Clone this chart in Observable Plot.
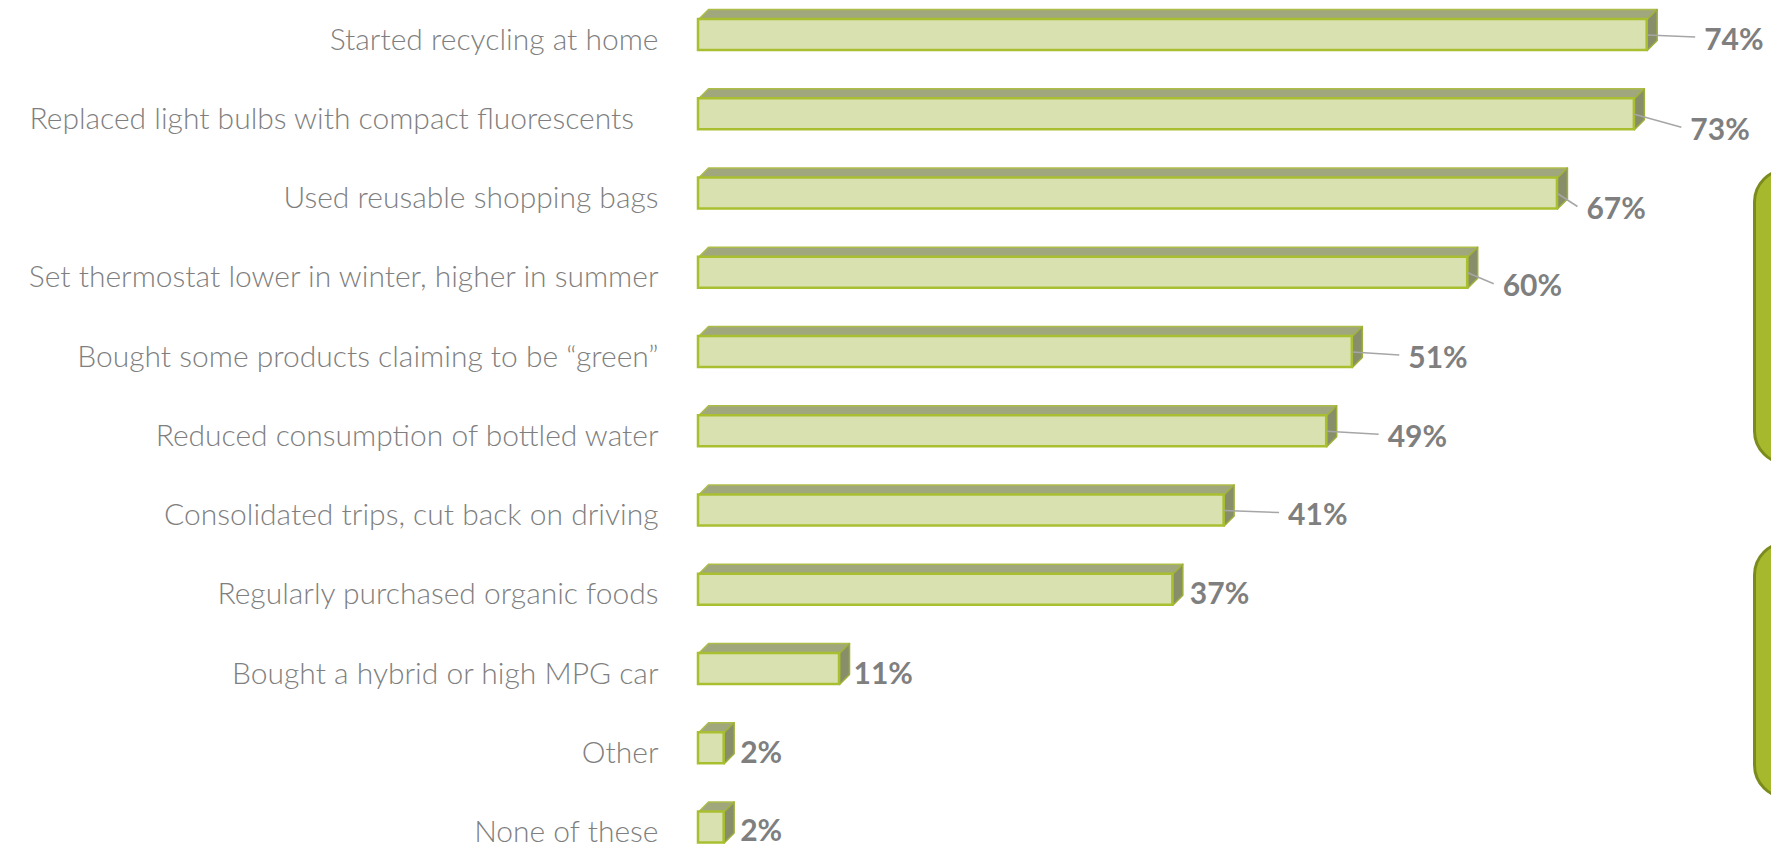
<!DOCTYPE html>
<html><head><meta charset="utf-8">
<script src="https://cdn.jsdelivr.net/npm/d3@7"></script>
<script src="https://cdn.jsdelivr.net/npm/@observablehq/plot@0.6"></script>
<style>
html,body{margin:0;padding:0;background:#fff;overflow:hidden}
#wrap{position:relative;width:1771px;height:848px;overflow:hidden}
.box{position:absolute;left:1753px;width:90px;border-radius:34px;background:#a6b92c;border:3px solid #7b8b1d;box-sizing:border-box}
</style></head><body>
<div id="wrap"><div id="chart"></div><div class="box" style="top:168px;height:297px"></div><div class="box" style="top:541px;height:258px"></div></div>
<script>
// ---- data ----
const categories = [
  "Started recycling at home",
  "Replaced light bulbs with compact fluorescents\u00a0\u00a0\u00a0",
  "Used reusable shopping bags",
  "Set thermostat lower in winter, higher in summer",
  "Bought some products claiming to be \u201cgreen\u201d",
  "Reduced consumption of bottled water",
  "Consolidated trips, cut back on driving",
  "Regularly purchased organic foods",
  "Bought a hybrid or high MPG car",
  "Other",
  "None of these"
];
const values = [74, 73, 67, 60, 51, 49, 41, 37, 11, 2, 2];
const valueLabels = values.map(v => v + "%");

// ---- layout (pixels) ----
const W = 1771, H = 848;
const x0 = 698, pxX = 12.82, xMax = 80;
const y0 = 34.5, pxY = 79.25;
const halfH = 15.5, depth = 10;
const labelGap  = [57, 56, 29, 35, 56, 61, 64, 17, 14, 16, 16];
const labelDrop = [5, 16, 16, 14, 6, 6, 5, 5, 5, 5, 4];

const hU = halfH / pxY, dXU = depth / pxX, dYU = depth / pxY;
const rows = categories.map((c, i) => ({i, c, v: values[i], label: valueLabels[i]}));

const topPts = [], sidePts = [];
rows.forEach(r => {
  const t = r.i - hU, b = r.i + hU;
  [[0,t],[r.v,t],[r.v+dXU,t-dYU],[dXU,t-dYU],[0,t]].forEach(([x,y]) => topPts.push({id: r.i, x, y}));
  [[r.v,t],[r.v+dXU,t-dYU],[r.v+dXU,b-dYU],[r.v,b],[r.v,t]].forEach(([x,y]) => sidePts.push({id: r.i, x, y}));
});

const leaders = rows.filter(r => labelGap[r.i] > 25).map(r => ({
  x1: r.v, y1: r.i, x2: r.v + (labelGap[r.i] - 9) / pxX, y2: r.i + (labelDrop[r.i] - 3) / pxY
}));

const valueMarks = rows.map(r => Plot.text([r], {
  x: "v", y: "i", text: "label", textAnchor: "start", lineAnchor: "middle",
  dx: labelGap[r.i], dy: labelDrop[r.i],
  fill: "#7f7f7f", fontSize: 30, fontWeight: "bold", fontFamily: "Lato, 'Open Sans', sans-serif"
}));

const chart = Plot.plot({
  width: W, height: H,
  x: {domain: [0, xMax], range: [x0, x0 + xMax * pxX], axis: null},
  y: {domain: [0, 10], range: [y0, y0 + 10 * pxY], axis: null},
  style: {background: "transparent"},
  marks: [
    Plot.line(topPts, {x: "x", y: "y", z: "id", fill: "#a0a77c", stroke: "#aebd48", strokeWidth: 1.5}),
    Plot.line(sidePts, {x: "x", y: "y", z: "id", fill: "#888e6a", stroke: "#9fb03a", strokeWidth: 1.5}),
    Plot.rect(rows, {x1: 0, x2: "v", y1: d => d.i - hU, y2: d => d.i + hU,
      fill: "#d9e1b1", stroke: "#a9bf30", strokeWidth: 2.5}),
    Plot.link(leaders, {x1: "x1", y1: "y1", x2: "x2", y2: "y2", stroke: "#a6a6a6", strokeWidth: 1.5}),
    Plot.text(rows, {x: 0, y: "i", text: "c", textAnchor: "end", lineAnchor: "middle",
      dx: -40, dy: 5, fill: "#7f7f7f", fontSize: 30, fontWeight: 300,
      fontFamily: "Lato, 'Open Sans', sans-serif"}),
    ...valueMarks
  ]
});
document.getElementById("chart").appendChild(chart);
</script>
</body></html>
